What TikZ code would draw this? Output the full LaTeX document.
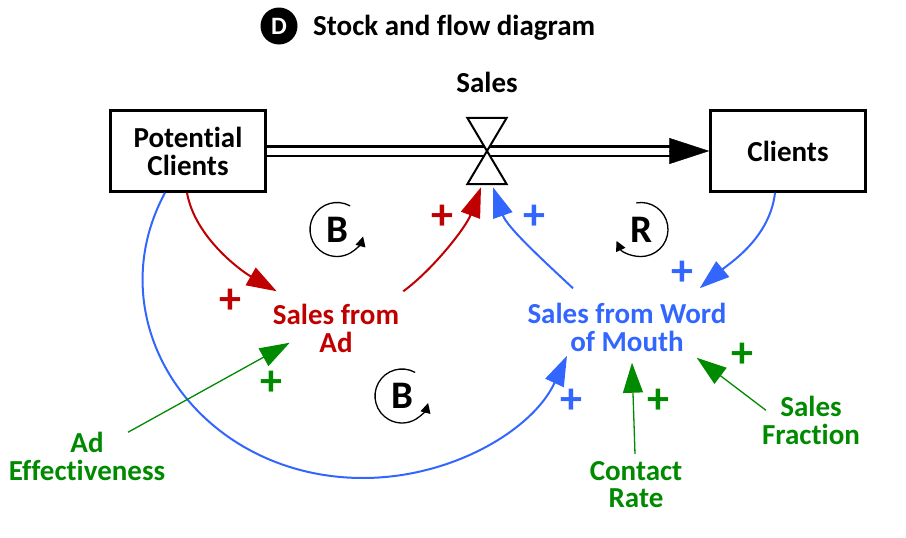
\documentclass[tikz,border=0pt]{standalone}
\usepackage{fontspec}
\setmainfont{Carlito}[Ligatures=NoCommon]
\usepackage{xcolor}
\usetikzlibrary{arrows.meta,positioning}
\definecolor{adred}{HTML}{C00000}
\definecolor{wordblue}{HTML}{3366FF}
\definecolor{paramgreen}{HTML}{008A00}

\tikzset{
  stock/.style={draw, line width=2.5pt, minimum width=155pt, minimum height=81pt, align=center, font=\fontsize{29}{28}\selectfont\bfseries},
  varname/.style={align=center, inner sep=0pt, font=\fontsize{29}{27.5}\selectfont\bfseries},
  loopname/.style={inner sep=0pt, font=\fontsize{39}{39}\selectfont\bfseries},
  sign/.style={inner sep=0pt, font=\fontsize{44}{44}\selectfont\bfseries},
  link/.style={line width=2pt, -{Triangle[length=30pt,width=20pt]}},
  looparrow/.style={line width=1.3pt, -{Triangle[length=10pt,width=10pt]}},
}

\begin{document}
\begin{tikzpicture}[x=1pt, y=-1pt]
  \useasboundingbox (0,0) rectangle (906,538);

  \node[circle, fill=black, text=white, minimum size=37pt, inner sep=0pt, font=\fontsize{25}{25}\selectfont\bfseries] (badge) at (279,26) {D};
  \node[varname, anchor=base west] (title) at (313,35) {Stock and flow diagram};

  \node[stock] (potential) at (188,151) {Potential\\Clients};
  \node[stock] (clients) at (788,151) {Clients};
  \node[minimum width=39pt, minimum height=66pt, inner sep=0pt] (valve) at (487,151) {};
  \node[varname, above=25pt of valve] (saleslabel) {Sales};

  \draw[line width=2.5pt, double distance=7pt] (potential.east) -- ([xshift=-38pt]clients.west);
  \draw[line width=0.4pt, -{Triangle[length=40pt,width=26pt]}] ([xshift=-40pt]clients.west) -- (clients.west);
  \filldraw[fill=white, line width=2pt] (valve.north west) -- (valve.north east) -- (valve.south west) -- (valve.south east) -- cycle;

  \node[loopname] (loopb1) at (337,229.5) {B};
  \node[loopname] (loopb2) at (402,396) {B};
  \node[loopname] (loopr) at (641,229.5) {R};
  \draw[looparrow] ([shift={(-61:27)}]loopb1.center) arc[start angle=-61, end angle=-345, radius=27];
  \draw[looparrow] ([shift={(-61:27)}]loopb2.center) arc[start angle=-61, end angle=-345, radius=27];
  \draw[looparrow] ([shift={(-100:27)}]loopr.center) arc[start angle=-100, end angle=155, radius=27];

  \node[varname, text=adred] (salesad) at (336,328.5) {Sales from\\Ad};
  \node[varname, text=wordblue] (salesword) at (627,327.5) {Sales from Word\\of Mouth};
  \node[varname, text=paramgreen] (adeff) at (87,456.5) {Ad\\Effectiveness};
  \node[varname, text=paramgreen] (contact) at (636,484.5) {Contact\\Rate};
  \node[varname, text=paramgreen] (fraction) at (811,420.5) {Sales\\Fraction};

  \draw[link, adred] ([xshift=-1pt]potential.south) .. controls +(8,45) and +(-35,-20) .. ([shift={(4,-13)}]salesad.north west);
  \draw[link, adred] ([shift={(4,-13)}]salesad.north east) .. controls +(30,-22) and +(-15,40) .. ([shift={(-6,3)}]valve.south);
  \draw[link, wordblue] ([shift={(-54,-15)}]salesword.north) .. controls +(-30,-28) and +(14,40) .. ([shift={(6,3)}]valve.south);
  \draw[link, wordblue] ([xshift=-13pt]clients.south) .. controls +(-5,45) and +(30,-25) .. ([shift={(-27,-15)}]salesword.north east);
  \draw[link, wordblue] ([xshift=-23pt]potential.south) .. controls +(-71,132) and +(-163,0) .. (363,478) .. controls +(89,0) and +(-34,74) .. ([shift={(-60,4)}]salesword.south);

  \draw[link, paramgreen, line width=1.3pt] ([xshift=41pt]adeff.north) -- ([shift={(17,-10)}]salesad.south west);
  \draw[link, paramgreen, line width=1.3pt] ([shift={(-1,-7)}]contact.north) -- ([shift={(5,11)}]salesword.south);
  \draw[link, paramgreen, line width=1.3pt] ([shift={(4,14)}]fraction.north west) -- ([shift={(-30,6)}]salesword.south east);

  \foreach \n/\x/\y/\c in {1/230/301/adred, 2/442/217/adred, 3/534/217/wordblue, 4/682/273/wordblue,
    5/571/401/wordblue, 6/271/383/paramgreen, 7/658/401/paramgreen, 8/742/355/paramgreen}{
    \node[sign, text=\c] (plus\n) at (\x,\y) {+};
  }
\end{tikzpicture}
\end{document}
